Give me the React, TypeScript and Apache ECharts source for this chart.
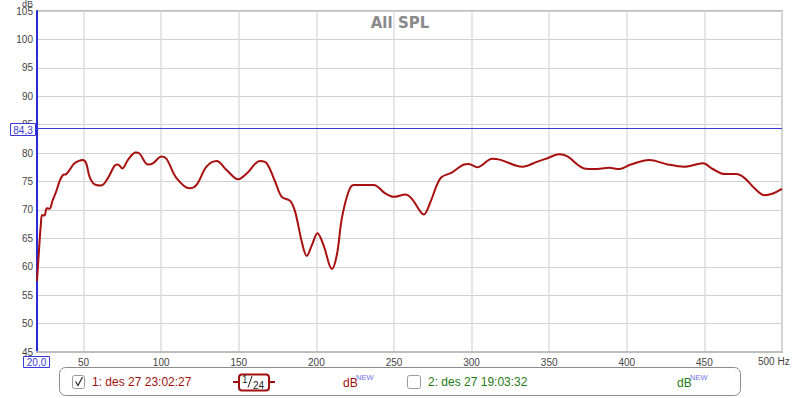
import React, { useEffect, useRef } from "react";
import * as echarts from "echarts";

const freqs = [20, 21.5, 22.5, 23.3, 24.8, 26.3, 28, 30.1, 32.3, 34.5, 36.6, 38.8, 40.9, 44.2, 49.5, 51.7, 53.9, 57.1, 61.4, 65.7, 70, 72.1, 75, 78.6, 83.6, 86.1, 91.5, 94.7, 100.2, 103.4, 109.9, 118.4, 122.8, 129.2, 135.7, 142.2, 149.7, 155.1, 163.7, 168, 173.4, 177.7, 183.1, 186.3, 190.6, 193.8, 197.1, 200.7, 204.6, 210, 213.2, 216.4, 220.7, 223.9, 236.9, 244.4, 249.8, 257.3, 261.7, 267, 269.2, 273.5, 280, 287.5, 295, 298.2, 303.7, 313.3, 318.7, 332.7, 342.5, 348.9, 356.4, 361.8, 372.6, 379, 388.7, 395.1, 402.6, 414.5, 426.4, 437.1, 449, 455.4, 462.9, 470.5, 475.9, 482.3, 488.8, 494.2, 500];
const splValues = [57.5, 63.8, 67.5, 69.1, 69, 70.3, 70.2, 71.7, 73.2, 75, 76.1, 76.3, 77, 78.2, 78.8, 78.2, 75.8, 74.5, 74.3, 75.6, 77.8, 78, 77.3, 78.8, 80.1, 79.9, 78, 78.2, 79.4, 79, 75.6, 73.8, 74.4, 77.6, 78.6, 77, 75.4, 76.4, 78.6, 78.2, 75, 72.3, 71.6, 69.7, 64.4, 61.9, 63.8, 65.9, 63.8, 59.6, 62.1, 68.5, 73.2, 74.4, 74.4, 72.9, 72.3, 72.7, 71.9, 69.7, 69.2, 71.4, 75.6, 76.6, 78, 78.1, 77.5, 79, 78.8, 77.6, 78.5, 79.1, 79.8, 79.4, 77.3, 77.2, 77.4, 77.2, 78, 78.8, 78, 77.6, 78.2, 77.2, 76.3, 76.3, 75.6, 73.8, 72.6, 72.9, 73.7];
const refLevel = 84.3;
const title = "All SPL";
const legend1 = "1: des 27 23:02:27";
const legend2 = "2: des 27 19:03:32";

const FONT = "Liberation Sans";

export default function App() {
  const ref = useRef<HTMLDivElement>(null);
  useEffect(() => {
    if (!ref.current) return;
    const chart = echarts.init(ref.current, null, { renderer: "svg" });
    const data = freqs.map((f, i) => [f, splValues[i]]);
    chart.setOption({
      animation: false,
      backgroundColor: "#ffffff",
      title: {
        text: title,
        left: "center",
        top: 10,
        textStyle: { color: "#8a8a8a", fontSize: 15, fontWeight: "bold", fontFamily: "DejaVu Sans" },
      },
      grid: {
        left: 37,
        right: 18,
        top: 11,
        bottom: 46,
        show: true,
        borderColor: "#bdbdbd",
        borderWidth: 2,
      },
      xAxis: {
        type: "value",
        min: 20,
        max: 500,
        splitNumber: 10,
        axisLine: { show: true, lineStyle: { color: "#bdbdbd", width: 2 } },
        axisTick: { show: false },
        axisLabel: {
          color: "#444",
          fontSize: 10,
          fontFamily: FONT,
          margin: 5,
          formatter: (v: number) => (v === 20 || v === 500 ? "" : String(v)),
        },
        splitLine: { show: true, lineStyle: { color: "#dcdcdc", width: 1.5 } },
      },
      yAxis: {
        type: "value",
        min: 45,
        max: 105,
        interval: 5,
        axisLine: { show: true, lineStyle: { color: "#2a2ad8", width: 2 } },
        axisTick: { show: false },
        axisLabel: { color: "#444", fontSize: 10, fontFamily: FONT, margin: 4 },
        splitLine: { show: true, lineStyle: { color: "#d0d0d0", width: 1 } },
      },
      series: [
        {
          type: "line",
          data,
          smooth: 0.35,
          symbol: "none",
          lineStyle: { color: "#a80f0f", width: 2 },
          markLine: {
            silent: true,
            symbol: "none",
            label: { show: false },
            lineStyle: { color: "#3a3ad6", width: 1, type: "solid" },
            data: [{ yAxis: refLevel }],
          },
        },
      ],
      graphic: [
        { type: "text", left: 22, top: -1, style: { text: "dB", fontSize: 9, fill: "#444", fontFamily: FONT } },
        { type: "rect", shape: { x: 10.5, y: 123.5, width: 25, height: 12 }, style: { fill: "#fff", stroke: "#3a3ad6", lineWidth: 1 }, z: 100 },
        { type: "text", x: 23, y: 130, style: { text: "84,3", fontSize: 10, fill: "#3a3ad6", fontFamily: FONT, align: "center", verticalAlign: "middle" }, z: 101 },
        { type: "rect", shape: { x: 23.5, y: 356.5, width: 26, height: 11 }, style: { fill: "#fff", stroke: "#3a3ad6", lineWidth: 1 }, z: 100 },
        { type: "text", x: 36.5, y: 362.5, style: { text: "20,0", fontSize: 10, fill: "#3a3ad6", fontFamily: FONT, align: "center", verticalAlign: "middle" }, z: 101 },
        { type: "text", x: 758, y: 361, style: { text: "500 Hz", fontSize: 10, fill: "#444", fontFamily: FONT, verticalAlign: "middle" } },
        // legend box
        { type: "rect", shape: { x: 59.5, y: 367.5, width: 681, height: 28, r: 6 }, style: { fill: "#fff", stroke: "#8c8c8c", lineWidth: 1 } },
        { type: "rect", shape: { x: 72.5, y: 375.5, width: 12, height: 13, r: 2 }, style: { fill: "#fff", stroke: "#9a9a9a", lineWidth: 1 } },
        { type: "polyline", shape: { points: [[75.5, 381.5], [78, 385.5], [82.5, 377]] }, style: { stroke: "#333", lineWidth: 1.3, fill: "none" } },
        { type: "text", x: 92, y: 382, style: { text: legend1, fontSize: 12, fill: "#a01010", fontFamily: FONT, verticalAlign: "middle" } },
        { type: "line", shape: { x1: 233, y1: 382, x2: 239, y2: 382 }, style: { stroke: "#a01010", lineWidth: 2 } },
        { type: "line", shape: { x1: 269, y1: 382, x2: 275, y2: 382 }, style: { stroke: "#a01010", lineWidth: 2 } },
        { type: "rect", shape: { x: 239, y: 374.5, width: 30, height: 16, r: 3 }, style: { fill: "#fff", stroke: "#a01010", lineWidth: 2 } },
        { type: "text", x: 242, y: 379, style: { text: "1", fontSize: 10, fill: "#222", fontFamily: FONT, verticalAlign: "middle" } },
        { type: "line", shape: { x1: 248, y1: 387.5, x2: 252, y2: 376 }, style: { stroke: "#222", lineWidth: 1 } },
        { type: "text", x: 253, y: 385, style: { text: "24", fontSize: 10, fill: "#222", fontFamily: FONT, verticalAlign: "middle" } },
        { type: "text", x: 343, y: 383, style: { text: "dB", fontSize: 12, fill: "#a01010", fontFamily: FONT, verticalAlign: "middle" } },
        { type: "text", x: 356, y: 377, style: { text: "NEW", fontSize: 7.5, fill: "#7373e6", fontFamily: FONT, verticalAlign: "middle" } },
        { type: "rect", shape: { x: 407.5, y: 375.5, width: 13, height: 13, r: 2 }, style: { fill: "#fff", stroke: "#9a9a9a", lineWidth: 1 } },
        { type: "text", x: 428, y: 382, style: { text: legend2, fontSize: 12, fill: "#1f7a16", fontFamily: FONT, verticalAlign: "middle" } },
        { type: "text", x: 677, y: 383, style: { text: "dB", fontSize: 12, fill: "#1f7a16", fontFamily: FONT, verticalAlign: "middle" } },
        { type: "text", x: 690, y: 377, style: { text: "NEW", fontSize: 7.5, fill: "#7373e6", fontFamily: FONT, verticalAlign: "middle" } },
      ],
    });
    return () => chart.dispose();
  }, []);
  return <div ref={ref} style={{ position: "fixed", left: 0, top: 0, width: 800, height: 398, background: "#fff" }} />;
}
